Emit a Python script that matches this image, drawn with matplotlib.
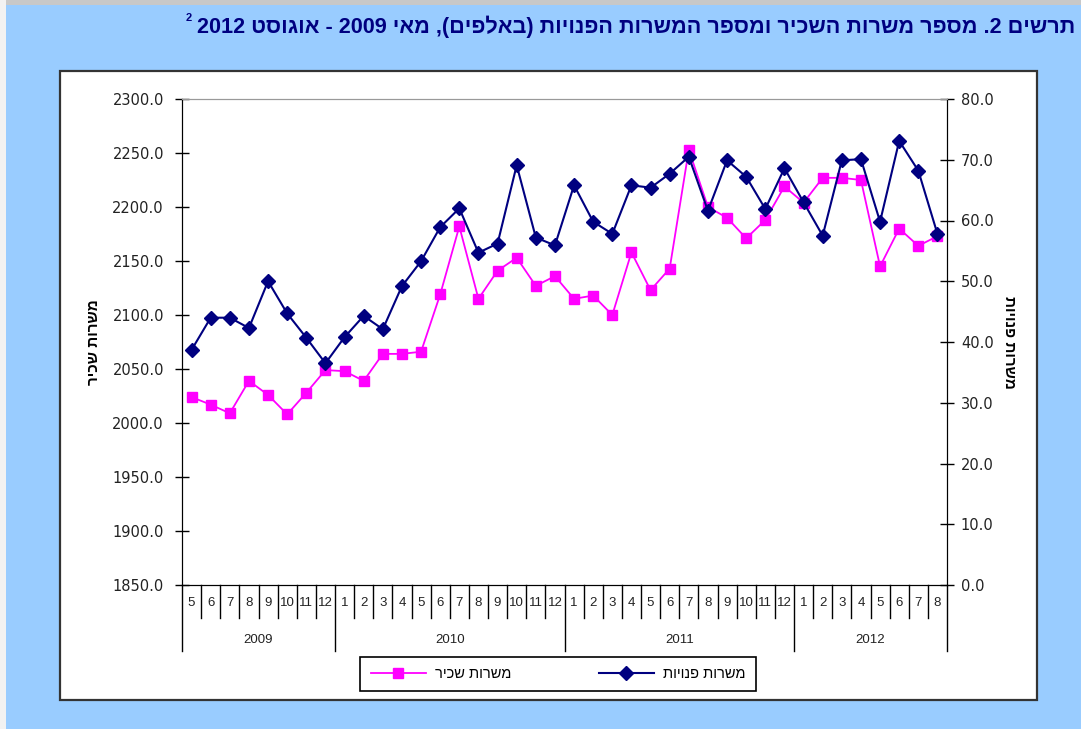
import re

import matplotlib.pyplot as plt
from matplotlib.patches import Rectangle

plt.rcParams['font.family'] = ['Liberation Sans', 'DejaVu Sans']

# data (May 2009 - Aug 2012)
years = ['2009', '2010', '2011', '2012']
months = [5, 6, 7, 8, 9, 10, 11, 12] + list(range(1, 13)) * 2 + [1, 2, 3, 4, 5, 6, 7, 8]
months_per_year = [8, 12, 12, 8]

jobs_employee = [2024, 2017, 2009, 2039, 2026, 2008, 2028, 2049,
                 2048, 2039, 2064, 2064, 2066, 2119, 2182, 2115, 2141, 2153, 2127, 2136,
                 2115, 2118, 2100, 2158, 2123, 2143, 2253, 2200, 2190, 2171, 2188, 2219,
                 2204, 2227, 2227, 2225, 2145, 2180, 2164, 2173]
jobs_vacant = [38.7, 44.0, 44.0, 42.3, 50.0, 44.7, 40.7, 36.5,
               40.8, 44.3, 42.1, 49.2, 53.3, 58.9, 62.0, 54.7, 56.2, 69.1, 57.2, 55.9,
               65.8, 59.8, 57.8, 65.8, 65.4, 67.7, 70.5, 61.6, 69.9, 67.2, 61.9, 68.6,
               63.0, 57.5, 69.9, 70.1, 59.8, 73.1, 68.2, 57.8]

title = "תרשים 2. מספר משרות השכיר ומספר המשרות הפנויות (באלפים), מאי 2009 - אוגוסט 2012"
label_employee = "משרות שכיר"
label_vacant = "משרות פנויות"


def heb(s):
    # matplotlib has no bidi: turn logical Hebrew into visual order
    r = s[::-1]
    r = re.sub(r'\d+', lambda m: m.group(0)[::-1], r)
    return r.translate(str.maketrans('()', ')('))


W, H = 1081, 729
fig = plt.figure(figsize=(W / 100, H / 100), dpi=100)
fig.patch.set_facecolor('#99CCFF')
fig.add_artist(Rectangle((0, 1 - 5 / H), 1, 5 / H, transform=fig.transFigure,
                         facecolor='#C8C8C8', edgecolor='none', zorder=-2))
fig.add_artist(Rectangle((0, 0), 6 / W, 1, transform=fig.transFigure,
                         facecolor='#F2F2F2', edgecolor='none', zorder=-2))
fig.add_artist(Rectangle((60 / W, 1 - 700 / H), 977 / W, 629 / H, transform=fig.transFigure,
                         facecolor='white', edgecolor='#333333', lw=1.6, zorder=-1))

ax = fig.add_axes([182 / W, 1 - 585 / H, 765 / W, 486 / H])
ax.set_facecolor('none')
x = list(range(len(months)))

l1, = ax.plot(x, jobs_employee, color='#FF00FF', lw=1.3, marker='s', ms=7.5,
              markeredgecolor='#FF00FF', label=heb(label_employee))
ax.set_ylim(1850, 2300)
ax.set_yticks(range(1850, 2301, 50))
ax.set_yticklabels([f'{v:.1f}' for v in range(1850, 2301, 50)])
ax.set_xlim(-0.5, len(months) - 0.5)
ax.set_xticks([])

ax2 = ax.twinx()
l2, = ax2.plot(x, jobs_vacant, color='#000080', lw=1.5, marker='D', ms=7.5,
               label=heb(label_vacant))
ax2.set_ylim(0, 80)
ax2.set_yticks(range(0, 81, 10))
ax2.set_yticklabels([f'{v:.1f}' for v in range(0, 81, 10)])

for a in (ax, ax2):
    a.spines['top'].set_color('#999999')
    a.spines['left'].set_color('black')
    a.spines['right'].set_color('black')
    a.spines['bottom'].set_color('black')
    a.tick_params(axis='y', direction='inout', length=10, width=1, labelsize=10.5, pad=5)
    for lab in a.get_yticklabels():
        lab.set_family('DejaVu Sans')
        lab.set_color('#222222')
ax.tick_params(axis='y', pad=8)

ax.set_ylabel(heb(label_employee), fontsize=11, fontweight='bold', labelpad=8)
ax2.set_ylabel(heb(label_vacant), fontsize=11, fontweight='bold', rotation=270, labelpad=16)

# category axis: month cells and year cells
tr = ax.get_xaxis_transform()
bounds = [i - 0.5 for i in range(len(months) + 1)]
year_bounds = [-0.5]
for n in months_per_year:
    year_bounds.append(year_bounds[-1] + n)
for b in bounds:
    low = -66 / 486 if b in year_bounds else -33 / 486
    ax.plot([b, b], [0, low], transform=tr, color='black', lw=1, clip_on=False)
for i, m in enumerate(months):
    ax.text(i, -18 / 486, str(m), transform=tr, ha='center', va='center', fontsize=9.5,
            color='#222222')
for k, yr in enumerate(years):
    mid = (year_bounds[k] + year_bounds[k + 1]) / 2
    ax.text(mid, -55 / 486, yr, transform=tr, ha='center', va='center', fontsize=9.5,
            color='#222222')

leg = fig.legend(handles=[l1, l2], loc='center', bbox_to_anchor=(558 / W, 1 - 674 / H),
                 ncol=2, frameon=True, fancybox=False, edgecolor='black', framealpha=1,
                 fontsize=10.5, handlelength=3.8, columnspacing=6.0, borderpad=0.7,
                 handletextpad=0.6)
leg.get_frame().set_linewidth(1.2)

t = fig.text(1075 / W, 1 - 27 / H, heb(title), ha='right', va='center', fontsize=15.6,
             fontweight='bold', color='#000080')
fig.canvas.draw()
bb = t.get_window_extent()
fig.text((bb.x0 - 5) / W, 1 - 18 / H, '2', ha='right', va='center', fontsize=8,
         fontweight='bold', color='#000080')

fig.savefig('out.png', dpi=100, facecolor=fig.get_facecolor())
